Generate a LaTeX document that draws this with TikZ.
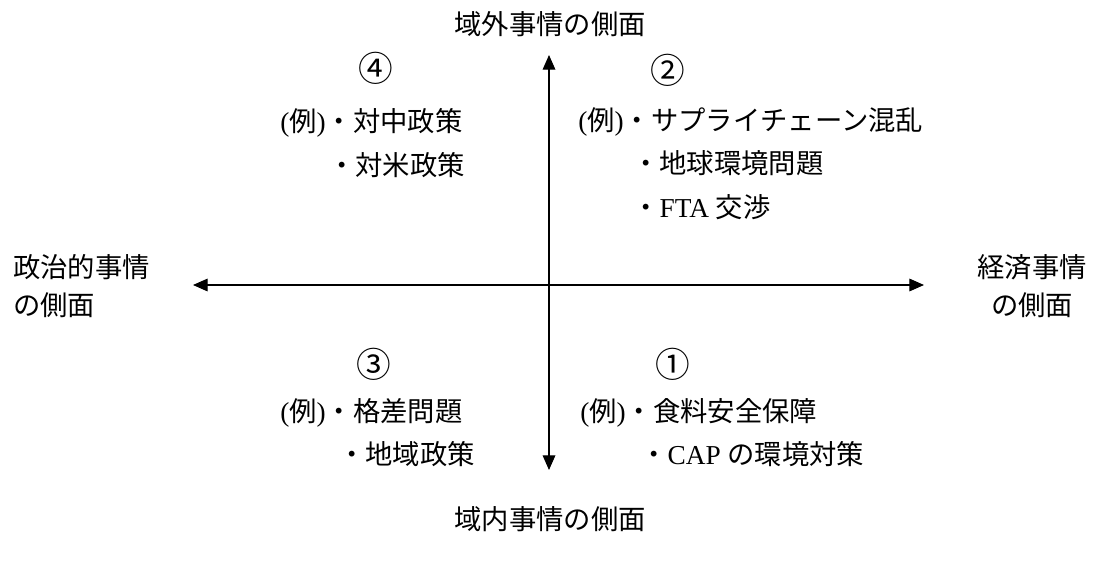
\documentclass[tikz,border=0pt]{standalone}
\usepackage{fontspec}
\setmainfont{Liberation Serif}
\newfontfamily\jp{Noto Sans CJK JP}
\usetikzlibrary{arrows.meta}
\tikzset{
  lbl/.style={inner sep=0pt, font=\fontsize{20.5pt}{24pt}\selectfont\jp, text height=0.88em, text depth=0.12em},
  ln/.style={lbl, anchor=west},
  num/.style={lbl, font=\fontsize{26pt}{28pt}\selectfont\jp},
  axis/.style={line width=0.9pt, {Triangle[length=11pt,width=9.5pt]}-{Triangle[length=11pt,width=9.5pt]}}
}
\begin{document}
\begin{tikzpicture}[x=0.75pt,y=-0.75pt]
\useasboundingbox (0,0) rectangle (1094,567);
% axes
\coordinate (top) at (549,55);
\coordinate (bot) at (549,470);
\coordinate (lft) at (193,285);
\coordinate (rgt) at (924,285);
\draw[axis] (bot) -- (top);
\draw[axis] (lft) -- (rgt);
% axis labels
\node[lbl] (tl) at (550,29) {域外事情の側面};
\node[lbl] (bl) at (550,524) {域内事情の側面};
\node[ln] (l1) at (13,272) {政治的事情};
\node[ln] (l2) at (13,310) {の側面};
\node[lbl] (r1) at (1032,272) {経済事情};
\node[lbl] (r2) at (1032,310) {の側面};
% quadrant 4
\node[num] (n4) at (376,76) {④};
\node[ln] (q4a) at (280,126) {{\rmfamily(}例{\rmfamily)}・対中政策};
\node[ln] (q4b) at (328,170) {・対米政策};
% quadrant 2
\node[num] (n2) at (668,78) {②};
\node[ln] (q2a) at (578,125) {{\rmfamily(}例{\rmfamily)}・サプライチェーン混乱};
\node[ln] (q2b) at (632,168) {・地球環境問題};
\node[ln] (q2c) at (632,212) {・{\rmfamily FTA }交渉};
% quadrant 3
\node[num] (n3) at (374,372) {③};
\node[ln] (q3a) at (280,416) {{\rmfamily(}例{\rmfamily)}・格差問題};
\node[ln] (q3b) at (338,459) {・地域政策};
% quadrant 1
\node[num] (n1) at (673,372) {①};
\node[ln] (q1a) at (580,416) {{\rmfamily(}例{\rmfamily)}・食料安全保障};
\node[ln] (q1b) at (640,459) {・{\rmfamily CAP }の環境対策};
\end{tikzpicture}
\end{document}
